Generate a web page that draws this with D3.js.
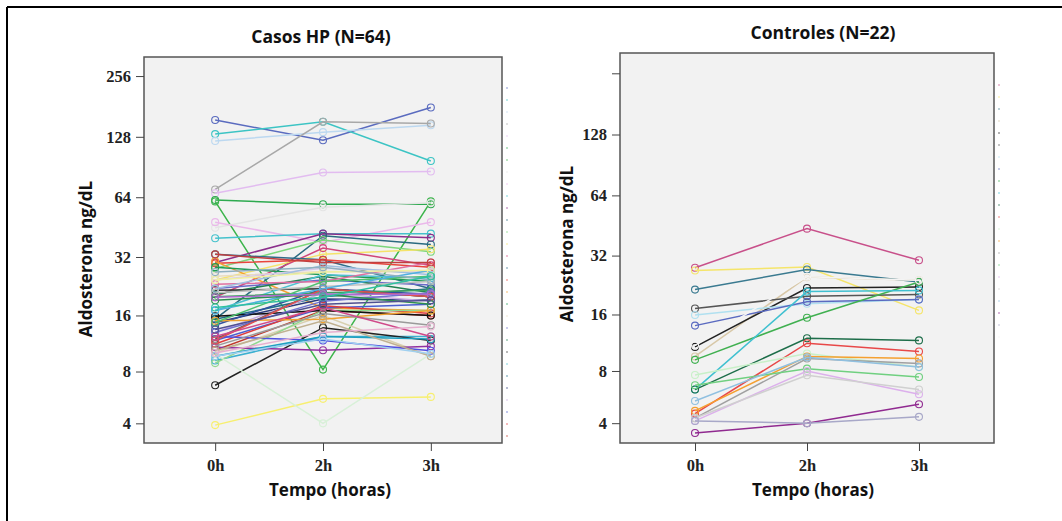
<!DOCTYPE html>
<html>
<head>
<meta charset="utf-8">
<script src="https://cdn.jsdelivr.net/npm/d3@7"></script>
<style>
    body { margin: 0; background: #fff; }
    .ptitle { font-family: "Open Sans", sans-serif; font-weight: bold; font-size: 17.5px; fill: #111; }
    .atitle { font-family: "Open Sans", sans-serif; font-weight: bold; font-size: 17px; fill: #111; }
    .tick text { font-family: "Liberation Serif", serif; font-weight: bold; font-size: 16.5px; fill: #222; }
    .tick line, .domain { stroke: #444; }
</style>
</head>
<body>
<svg id="chart" width="1062" height="521"></svg>
<script>
// time points on x
var timePoints = ["0h", "2h", "3h"];
var yTicksCases = [4, 8, 16, 32, 64, 128, 256];
var yTicksControls = [4, 8, 16, 32, 64, 128, 256];
var yLabelsControls = ["4", "8", "16", "32", "64", "128", ""];

// Casos HP, one row per patient: [0h, 2h, 3h]
var casesValues = [
    [155, 123, 179], [132, 152, 97], [122, 135, 146], [70, 152, 149],
    [67, 85, 86], [62, 59, 59], [61, 8.2, 61], [45, 57, 60],
    [48, 38, 48], [39.8, 42, 42], [30, 42, 40], [15.3, 41, 37],
    [28, 39, 34], [24.4, 33, 35], [19.9, 35.5, 29], [33, 31, 22],
    [29.7, 31, 28.4], [30.4, 17.5, 17], [28.4, 26, 24], [25.5, 27, 26.8],
    [22.1, 24.4, 23], [20.6, 25.5, 21], [21.6, 22, 20], [17, 26, 25],
    [15.3, 20, 22], [14.7, 19.5, 19.2], [13, 21, 19], [11.8, 17.5, 18.3],
    [11.3, 18, 16.4], [10.45, 17, 16], [10.1, 16, 9.7], [9.2, 12.4, 12.4],
    [8.9, 17, 17], [6.7, 13.8, 11.8], [3.9, 5.6, 5.75], [10, 4, 10],
    [15.85, 17, 16], [10.85, 10.45, 11], [12.4, 11.8, 10.4], [9.7, 12.4, 12],
    [14.2, 22, 20.6], [15, 15.3, 17], [23.2, 24, 30], [24.4, 28, 27],
    [22, 29, 26], [21, 22.6, 24], [33, 30, 30], [20, 21, 21.6],
    [12, 22, 20], [11, 16.4, 14.2], [10.4, 15, 9.7], [14.7, 24, 25.5],
    [13, 19, 21], [11.8, 22, 20], [12.4, 17.6, 12.4], [9.7, 12, 10],
    [17, 22, 27.4], [19.2, 20.6, 18.3], [24.4, 26.8, 27.4], [19.9, 20.6, 20.6],
    [26.8, 28.4, 24.4], [10.1, 13, 14], [17.6, 19.9, 25.5], [13.5, 18.3, 19.2]
];
var casesColors = [
    "#5a6bbf", "#3cc4c4", "#bcd8f0", "#a8a8a8", "#e2bcf0", "#2eaa50", "#3cb44b", "#e4e4e4",
    "#eab8ea", "#45c2cc", "#8b2f8b", "#2a6a80", "#7bd67b", "#f5e36a", "#d0467a", "#2e6b8a",
    "#e8453c", "#f5a030", "#1f9a55", "#e8dcc0", "#6a6ac8", "#208050", "#333333", "#4cc0d0",
    "#1e6e8a", "#2a3a7a", "#c8a8e0", "#4a5ed0", "#e03c3c", "#c0392b", "#d8d0b0", "#3cb0d0",
    "#90d890", "#222222", "#f7ef70", "#d8f0d8", "#111111", "#9030a0", "#5050e0", "#20a0c0",
    "#3050a0", "#f0a030", "#e070a0", "#d8c8e8", "#a0c0e0", "#c0c0c0", "#c04040", "#40a060",
    "#606060", "#9a9a9a", "#c0b090", "#50c070", "#7070d0", "#e05050", "#d04a8a", "#a0d0f0",
    "#50b0e0", "#2f8f4f", "#f0f0a0", "#b06ad0", "#90b0c0", "#e8b0d0", "#30c0a0", "#505090"
];

// Controles
var controlsValues = [
    [27.8, 43.7, 30.3], [26.9, 28, 16.8], [21.5, 27.2, 23.5], [9.6, 24.9, 24],
    [10.8, 21.9, 22.2], [17.2, 19.9, 20.3], [15.9, 18.2, 19.1], [14, 18.6, 19.1],
    [9.2, 15.4, 23.5], [6.3, 21, 21.3], [6.3, 12, 11.7], [4.57, 11.3, 10.2],
    [7.6, 9.95, 8.4], [4.74, 9.6, 9.35], [4.29, 9.35, 8.8], [6.66, 8.24, 7.41],
    [4.13, 8, 5.93], [4.3, 7.58, 6.3], [5.42, 9.5, 8.4], [3.48, 4, 5.19],
    [4.13, 4, 4.37], [11, 25, 24]
];
var controlsColors = [
    "#c8508a", "#f5e56a", "#3a7a90", "#d8c8a8", "#222222", "#555555", "#b0e0f0", "#5a6ac0",
    "#40b050", "#40c0d0", "#1e6e4a", "#e84848", "#c8f0c8", "#f5a030", "#a0a0a0", "#70d080",
    "#dcb0ec", "#d0d0d0", "#90c0e0", "#902a90", "#a8a8c8", "#f4f4f4"
];

var svg = d3.select("#chart");

// outer border (top and left only visible)
svg.append("line").attr("x1", 7).attr("x2", 1062).attr("y1", 7).attr("y2", 7)
    .attr("stroke", "#000").attr("stroke-width", 2);
svg.append("line").attr("x1", 7).attr("x2", 7).attr("y1", 7).attr("y2", 521)
    .attr("stroke", "#000").attr("stroke-width", 2);

function panel(opt) {
    var g = svg.append("g");

    var x = d3.scalePoint().domain(timePoints)
        .range([opt.left, opt.right]).padding(opt.pad);
    var y = d3.scaleSymlog().constant(1)
        .domain(opt.domain).range([opt.bottom, opt.top]);

    g.append("rect")
        .attr("x", opt.left).attr("y", opt.top)
        .attr("width", opt.right - opt.left).attr("height", opt.bottom - opt.top)
        .attr("fill", "#f2f2f2").attr("stroke", "#555").attr("stroke-width", 1.5);

    var yAxis = d3.axisLeft(y).tickValues(opt.ticks).tickSize(8).tickPadding(5)
        .tickFormat(function (d, i) { return opt.tickLabels[i]; });
    g.append("g").attr("transform", "translate(" + opt.left + ",0)").call(yAxis)
        .call(function (s) { s.select(".domain").remove(); });

    var xAxis = d3.axisBottom(x).tickSize(8).tickPadding(8);
    g.append("g").attr("transform", "translate(0," + opt.bottom + ")").call(xAxis)
        .call(function (s) { s.select(".domain").remove(); });

    var line = d3.line()
        .x(function (d, i) { return x(timePoints[i]); })
        .y(function (d) { return y(d); });

    opt.values.forEach(function (vals, k) {
        g.append("path")
            .datum(vals)
            .attr("d", line)
            .attr("fill", "none")
            .attr("stroke", opt.colors[k])
            .attr("stroke-width", 1.5);
        g.selectAll(null)
            .data(vals)
            .enter()
            .append("circle")
            .attr("cx", function (d, i) { return x(timePoints[i]); })
            .attr("cy", function (d) { return y(d); })
            .attr("r", 3.5)
            .attr("fill", "none")
            .attr("stroke", opt.colors[k])
            .attr("stroke-width", 1.1);
    });

    // faint leftover legend dots beside the frame
    opt.colors.forEach(function (c, k) {
        var yy = opt.dotTop + 12 * k;
        if (yy > opt.bottom) return;
        g.append("rect").attr("x", opt.right + 4).attr("y", yy)
            .attr("width", 2).attr("height", 2)
            .attr("fill", c).attr("opacity", 0.35);
    });

    g.append("text").attr("class", "ptitle")
        .attr("x", opt.titleX).attr("y", opt.titleY)
        .attr("text-anchor", "middle").text(opt.title);

    g.append("text").attr("class", "atitle")
        .attr("transform", "translate(" + opt.yTitleX + "," + opt.yTitleY + ") rotate(-90)")
        .attr("text-anchor", "middle").text("Aldosterona ng/dL");

    g.append("text").attr("class", "atitle")
        .attr("x", opt.xTitleX).attr("y", 496)
        .attr("text-anchor", "middle").text("Tempo (horas)");
}

panel({
    left: 144, right: 502, top: 57, bottom: 443, pad: 0.66,
    domain: [3, 318], ticks: yTicksCases,
    tickLabels: yTicksCases.map(String),
    values: casesValues, colors: casesColors, dotTop: 87,
    title: "Casos HP (N=64)", titleX: 321, titleY: 43,
    yTitleX: 92, yTitleY: 259, xTitleX: 330
});

panel({
    left: 620, right: 994, top: 53, bottom: 443, pad: 0.67,
    domain: [3, 322], ticks: yTicksControls,
    tickLabels: yLabelsControls,
    values: controlsValues, colors: controlsColors, dotTop: 84,
    title: "Controles (N=22)", titleX: 823, titleY: 39,
    yTitleX: 573, yTitleY: 244, xTitleX: 813
});
</script>
</body>
</html>
